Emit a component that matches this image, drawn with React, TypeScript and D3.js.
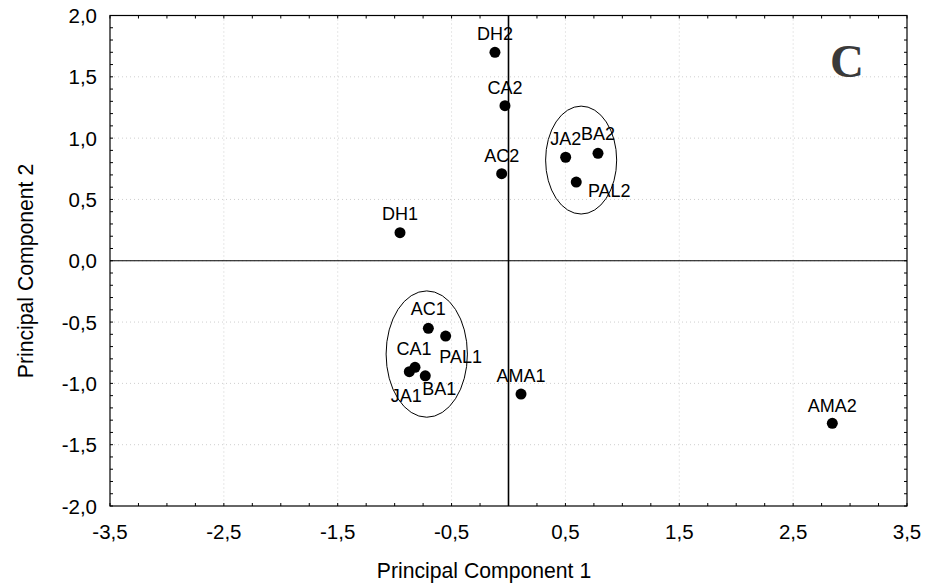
import React from "react";
import * as d3 from "d3";

const labels = ["DH2", "CA2", "AC2", "DH1", "JA2", "BA2", "PAL2", "AC1", "PAL1", "CA1", "JA1", "BA1", "AMA1", "AMA2"];
const pc1 = [-0.119, -0.031, -0.06, -0.953, 0.502, 0.786, 0.595, -0.704, -0.552, -0.821, -0.871, -0.731, 0.11, 2.844];
const pc2 = [1.70, 1.265, 0.71, 0.229, 0.844, 0.876, 0.642, -0.551, -0.614, -0.869, -0.905, -0.938, -1.087, -1.326];
// label offsets in px (dx of text centre, dy of baseline)
const labelDx = [0, 0, 0, 0, 0, 0, 33, 0, 15, -1, -3, 14, 0, 0];
const labelDy = [-12, -12, -12, -13, -12, -13, 15, -13, 27, -12, 30, 19, -12, -11];

const xTicks = [-3.5, -2.5, -1.5, -0.5, 0.5, 1.5, 2.5, 3.5];
const yTicks = [2.0, 1.5, 1.0, 0.5, 0.0, -0.5, -1.0, -1.5, -2.0];

// groups: cx, cy, rx, ry (data units)
const ellCx = [-0.718, 0.638];
const ellCy = [-0.761, 0.821];
const ellRx = [0.357, 0.312];
const ellRy = [0.515, 0.44];

const W = 942, H = 587;
const L = 110, R = 907, T = 15.5, B = 506;

export default function App() {
  const x = d3.scaleLinear().domain([-3.5, 3.5]).range([L, R]);
  const y = d3.scaleLinear().domain([-2, 2]).range([B, T]);
  const fmt = (v: number) => v.toFixed(1).replace(".", ",");
  const xMinor = d3.range(-3.5, 3.5001, 0.25);
  const yMinor = d3.range(-2, 2.0001, 0.1);
  const font = "'Liberation Sans', Arial, sans-serif";
  return (
    <svg width={W} height={H} style={{ position: "absolute", left: 0, top: 0, background: "#fff" }} fontFamily={font}>
      <rect x={0} y={0} width={W} height={H} fill="#fff" />
      {xTicks.slice(1, -1).map((t) => (
        <line key={"gx" + t} x1={x(t)} x2={x(t)} y1={T} y2={B} stroke="#cfcfcf" strokeDasharray="1,3" />
      ))}
      {yTicks.slice(1, -1).map((t) => (
        <line key={"gy" + t} x1={L} x2={R} y1={y(t)} y2={y(t)} stroke="#cfcfcf" strokeDasharray="1,3" />
      ))}
      {xMinor.map((t, i) => (
        <g key={"xm" + i}>
          <line x1={x(t)} x2={x(t)} y1={B} y2={B - 3} stroke="#000" />
          <line x1={x(t)} x2={x(t)} y1={T} y2={T + 3} stroke="#000" />
        </g>
      ))}
      {yMinor.map((t, i) => (
        <g key={"ym" + i}>
          <line x1={L} x2={L + 3} y1={y(t)} y2={y(t)} stroke="#000" />
          <line x1={R} x2={R - 3} y1={y(t)} y2={y(t)} stroke="#000" />
        </g>
      ))}
      <rect x={L} y={T} width={R - L} height={B - T} fill="none" stroke="#000" strokeWidth={1.2} />
      <line x1={x(0)} x2={x(0)} y1={T} y2={B} stroke="#000" strokeWidth={1.6} />
      <line x1={L} x2={R} y1={y(0)} y2={y(0)} stroke="#000" strokeWidth={1.2} />
      {xTicks.map((t) => (
        <text key={"xl" + t} x={x(t)} y={538.5} textAnchor="middle" fontSize={20.5} fill="#000">
          {fmt(t)}
        </text>
      ))}
      {yTicks.map((t) => (
        <text key={"yl" + t} x={97} y={y(t) + 7.5} textAnchor="end" fontSize={20.5} fill="#000">
          {fmt(t)}
        </text>
      ))}
      <text x={484} y={577.5} textAnchor="middle" fontSize={21.2} fill="#000">Principal Component 1</text>
      <text transform={`translate(33,271) rotate(-90)`} textAnchor="middle" fontSize={21.2} fill="#000">Principal Component 2</text>
      {ellCx.map((cx, i) => (
        <ellipse key={"e" + i} cx={x(cx)} cy={y(ellCy[i])} rx={x(ellRx[i]) - x(0)} ry={y(0) - y(ellRy[i])} fill="none" stroke="#000" strokeWidth={1} />
      ))}
      {labels.map((lab, i) => (
        <g key={lab}>
          <circle cx={x(pc1[i])} cy={y(pc2[i])} r={5.5} fill="#000" />
          <text x={x(pc1[i]) + labelDx[i]} y={y(pc2[i]) + labelDy[i]} textAnchor="middle" fontSize={18} fill="#000">
            {lab}
          </text>
        </g>
      ))}
      <text x={847} y={77} textAnchor="middle" fontSize={47} fontWeight="bold" fontFamily="'Liberation Serif', 'Times New Roman', serif" fill="#3a3a3a">C</text>
    </svg>
  );
}
